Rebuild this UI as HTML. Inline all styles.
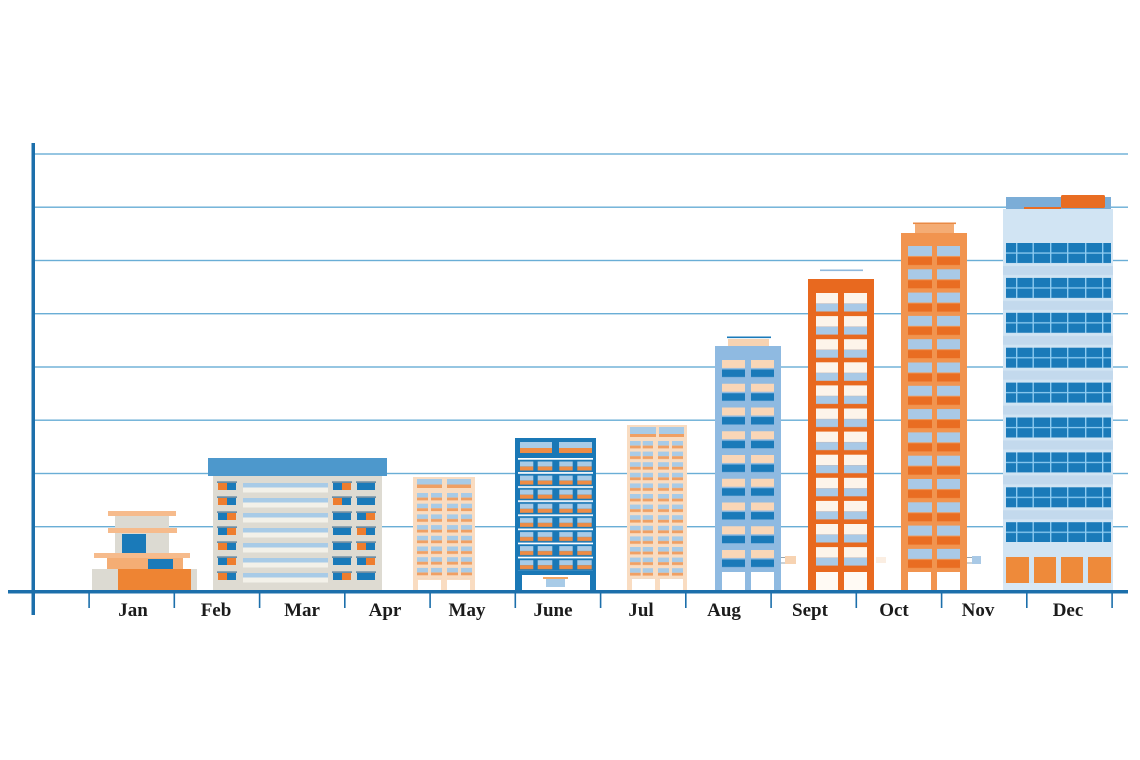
<!DOCTYPE html>
<html><head><meta charset="utf-8"><style>
html,body{margin:0;padding:0;background:#fff;}
svg{display:block;}
text{font-family:"Liberation Serif",serif;font-weight:bold;font-size:19px;fill:#1b1b1b;text-anchor:middle;}
</style></head><body>
<svg width="1140" height="760" viewBox="0 0 1140 760" xmlns="http://www.w3.org/2000/svg">
<defs>
<pattern id="pMay" patternUnits="userSpaceOnUse" x="0" y="493" width="1140" height="10.7">
 <rect x="417" y="0" width="11" height="4.6" fill="#a8cbe7"/><rect x="417" y="4.6" width="11" height="2.8" fill="#f0a064"/>
 <rect x="431" y="0" width="11" height="4.6" fill="#a8cbe7"/><rect x="431" y="4.6" width="11" height="2.8" fill="#f0a064"/>
 <rect x="447" y="0" width="11" height="4.6" fill="#a8cbe7"/><rect x="447" y="4.6" width="11" height="2.8" fill="#f0a064"/>
 <rect x="461" y="0" width="11" height="4.6" fill="#a8cbe7"/><rect x="461" y="4.6" width="11" height="2.8" fill="#f0a064"/>
</pattern>
<pattern id="pJune" patternUnits="userSpaceOnUse" x="0" y="458" width="1140" height="14.1">
 <rect x="518" y="0" width="75" height="1.7" fill="#ffffff"/>
 <rect x="520" y="3.5" width="13.3" height="5" fill="#a8cbe7"/><rect x="520" y="8.5" width="13.3" height="4" fill="#ee8c45"/>
 <rect x="537.7" y="3.5" width="14.6" height="5" fill="#a8cbe7"/><rect x="537.7" y="8.5" width="14.6" height="4" fill="#ee8c45"/>
 <rect x="559.3" y="3.5" width="13.4" height="5" fill="#a8cbe7"/><rect x="559.3" y="8.5" width="13.4" height="4" fill="#ee8c45"/>
 <rect x="577.3" y="3.5" width="14.4" height="5" fill="#a8cbe7"/><rect x="577.3" y="8.5" width="14.4" height="4" fill="#ee8c45"/>
</pattern>
<pattern id="pJul" patternUnits="userSpaceOnUse" x="0" y="441" width="1140" height="10.6">
 <rect x="630" y="0" width="10.7" height="4.6" fill="#a8cbe7"/><rect x="630" y="4.6" width="10.7" height="2.8" fill="#f0a064"/>
 <rect x="642.7" y="0" width="10.3" height="4.6" fill="#a8cbe7"/><rect x="642.7" y="4.6" width="10.3" height="2.8" fill="#f0a064"/>
 <rect x="658" y="0" width="11" height="4.6" fill="#a8cbe7"/><rect x="658" y="4.6" width="11" height="2.8" fill="#f0a064"/>
 <rect x="672" y="0" width="11" height="4.6" fill="#a8cbe7"/><rect x="672" y="4.6" width="11" height="2.8" fill="#f0a064"/>
</pattern>
<pattern id="pAug" patternUnits="userSpaceOnUse" x="0" y="360" width="1140" height="23.75">
 <rect x="722" y="0" width="23" height="8" fill="#f9d6b7"/><rect x="751" y="0" width="23" height="8" fill="#f9d6b7"/>
 <rect x="722" y="9.5" width="23" height="7.5" fill="#1a7ab9"/><rect x="751" y="9.5" width="23" height="7.5" fill="#1a7ab9"/>
</pattern>
<pattern id="pSep" patternUnits="userSpaceOnUse" x="0" y="293" width="1140" height="23.1">
 <rect x="816" y="0" width="22" height="10.5" fill="#fdf4ea"/><rect x="816" y="10.5" width="22" height="8" fill="#a9c9e6"/>
 <rect x="844" y="0" width="23" height="10.5" fill="#fdf4ea"/><rect x="844" y="10.5" width="23" height="8" fill="#a9c9e6"/>
</pattern>
<pattern id="pOct" patternUnits="userSpaceOnUse" x="0" y="246" width="1140" height="23.3">
 <rect x="908" y="0" width="24" height="10" fill="#a9c9e6"/><rect x="937" y="0" width="23" height="10" fill="#a9c9e6"/>
 <rect x="908" y="11" width="24" height="8" fill="#e96d22"/><rect x="937" y="11" width="23" height="8" fill="#e96d22"/>
</pattern>
<pattern id="pDec" patternUnits="userSpaceOnUse" x="0" y="243" width="1140" height="34.9">
 <rect x="1003" y="23" width="110" height="9" fill="#c3d9ed"/>
 <rect x="1006" y="0" width="105" height="20" fill="#1a7ab9"/>
 <rect x="1006" y="9.4" width="105" height="1.3" fill="#8ccaf0"/>
 <rect x="1016" y="0" width="1.4" height="20" fill="#8ccaf0"/>
 <rect x="1032.5" y="0" width="1.4" height="20" fill="#8ccaf0"/>
 <rect x="1050" y="0" width="1.4" height="20" fill="#8ccaf0"/>
 <rect x="1067" y="0" width="1.4" height="20" fill="#8ccaf0"/>
 <rect x="1085" y="0" width="1.4" height="20" fill="#8ccaf0"/>
 <rect x="1102" y="0" width="1.4" height="20" fill="#8ccaf0"/>
</pattern>
</defs>

<!-- gridlines -->
<g fill="#6aaed6">
 <rect x="35" y="153.3" width="1093" height="1.4"/>
 <rect x="35" y="206.5" width="1093" height="1.4"/>
 <rect x="35" y="259.8" width="1093" height="1.4"/>
 <rect x="35" y="313" width="1093" height="1.4"/>
 <rect x="35" y="366.3" width="1093" height="1.4"/>
 <rect x="35" y="419.5" width="1093" height="1.4"/>
 <rect x="35" y="472.8" width="1093" height="1.4"/>
 <rect x="35" y="526" width="1093" height="1.4"/>
</g>

<!-- Jan -->
<rect x="92" y="569" width="105" height="21" fill="#dcdad2"/>
<rect x="118" y="569" width="73" height="21" fill="#ee8433"/>
<rect x="107" y="558" width="76" height="11" fill="#f4ad74"/>
<rect x="148" y="559" width="25" height="10" fill="#1a7ab9"/>
<rect x="94" y="553" width="96" height="5" fill="#f6bb8c"/>
<rect x="115" y="533" width="54" height="20" fill="#dcdad2"/>
<rect x="122" y="534" width="24" height="19" fill="#1a7ab9"/>
<rect x="108" y="528" width="69" height="5" fill="#f6bb8c"/>
<rect x="115" y="516" width="54" height="12" fill="#dcdad2"/>
<rect x="108" y="511" width="68" height="5" fill="#f6bb8c"/>

<!-- Feb-Mar -->
<rect x="213" y="476" width="169" height="114" fill="#dedbd2"/>
<rect x="208" y="458" width="179" height="18" fill="#4d98cc"/>
<g>
 <g transform="translate(0,483)">
  <rect x="217" y="-1.5" width="20" height="1.2" fill="#3b6d93"/><rect x="218" y="0" width="9" height="7" fill="#ee7d2e"/><rect x="227" y="0" width="9" height="7" fill="#1a7ab9"/>
  <rect x="243" y="0" width="85" height="4.5" fill="#a8cbe7"/><rect x="243" y="4.5" width="85" height="5" fill="#f3f1e9"/>
  <rect x="332" y="-1.5" width="20" height="1.2" fill="#3b6d93"/><rect x="333" y="0" width="9" height="7" fill="#1a7ab9"/><rect x="342" y="0" width="9" height="7" fill="#ee7d2e"/>
  <rect x="356" y="-1.5" width="20" height="1.2" fill="#3b6d93"/><rect x="357" y="0" width="9" height="7" fill="#1a7ab9"/><rect x="366" y="0" width="9" height="7" fill="#1a7ab9"/>
 </g>
 <g transform="translate(0,498)">
  <rect x="217" y="-1.5" width="20" height="1.2" fill="#3b6d93"/><rect x="218" y="0" width="9" height="7" fill="#ee7d2e"/><rect x="227" y="0" width="9" height="7" fill="#1a7ab9"/>
  <rect x="243" y="0" width="85" height="4.5" fill="#a8cbe7"/><rect x="243" y="4.5" width="85" height="5" fill="#f3f1e9"/>
  <rect x="332" y="-1.5" width="20" height="1.2" fill="#3b6d93"/><rect x="333" y="0" width="9" height="7" fill="#ee7d2e"/><rect x="342" y="0" width="9" height="7" fill="#1a7ab9"/>
  <rect x="356" y="-1.5" width="20" height="1.2" fill="#3b6d93"/><rect x="357" y="0" width="9" height="7" fill="#1a7ab9"/><rect x="366" y="0" width="9" height="7" fill="#1a7ab9"/>
 </g>
 <g transform="translate(0,513)">
  <rect x="217" y="-1.5" width="20" height="1.2" fill="#3b6d93"/><rect x="218" y="0" width="9" height="7" fill="#1a7ab9"/><rect x="227" y="0" width="9" height="7" fill="#ee7d2e"/>
  <rect x="243" y="0" width="85" height="4.5" fill="#a8cbe7"/><rect x="243" y="4.5" width="85" height="5" fill="#f3f1e9"/>
  <rect x="332" y="-1.5" width="20" height="1.2" fill="#3b6d93"/><rect x="333" y="0" width="9" height="7" fill="#1a7ab9"/><rect x="342" y="0" width="9" height="7" fill="#1a7ab9"/>
  <rect x="356" y="-1.5" width="20" height="1.2" fill="#3b6d93"/><rect x="357" y="0" width="9" height="7" fill="#1a7ab9"/><rect x="366" y="0" width="9" height="7" fill="#ee7d2e"/>
 </g>
 <g transform="translate(0,528)">
  <rect x="217" y="-1.5" width="20" height="1.2" fill="#3b6d93"/><rect x="218" y="0" width="9" height="7" fill="#1a7ab9"/><rect x="227" y="0" width="9" height="7" fill="#ee7d2e"/>
  <rect x="243" y="0" width="85" height="4.5" fill="#a8cbe7"/><rect x="243" y="4.5" width="85" height="5" fill="#f3f1e9"/>
  <rect x="332" y="-1.5" width="20" height="1.2" fill="#3b6d93"/><rect x="333" y="0" width="9" height="7" fill="#1a7ab9"/><rect x="342" y="0" width="9" height="7" fill="#1a7ab9"/>
  <rect x="356" y="-1.5" width="20" height="1.2" fill="#3b6d93"/><rect x="357" y="0" width="9" height="7" fill="#ee7d2e"/><rect x="366" y="0" width="9" height="7" fill="#1a7ab9"/>
 </g>
 <g transform="translate(0,543)">
  <rect x="217" y="-1.5" width="20" height="1.2" fill="#3b6d93"/><rect x="218" y="0" width="9" height="7" fill="#ee7d2e"/><rect x="227" y="0" width="9" height="7" fill="#1a7ab9"/>
  <rect x="243" y="0" width="85" height="4.5" fill="#a8cbe7"/><rect x="243" y="4.5" width="85" height="5" fill="#f3f1e9"/>
  <rect x="332" y="-1.5" width="20" height="1.2" fill="#3b6d93"/><rect x="333" y="0" width="9" height="7" fill="#1a7ab9"/><rect x="342" y="0" width="9" height="7" fill="#1a7ab9"/>
  <rect x="356" y="-1.5" width="20" height="1.2" fill="#3b6d93"/><rect x="357" y="0" width="9" height="7" fill="#ee7d2e"/><rect x="366" y="0" width="9" height="7" fill="#1a7ab9"/>
 </g>
 <g transform="translate(0,558)">
  <rect x="217" y="-1.5" width="20" height="1.2" fill="#3b6d93"/><rect x="218" y="0" width="9" height="7" fill="#1a7ab9"/><rect x="227" y="0" width="9" height="7" fill="#ee7d2e"/>
  <rect x="243" y="0" width="85" height="4.5" fill="#a8cbe7"/><rect x="243" y="4.5" width="85" height="5" fill="#f3f1e9"/>
  <rect x="332" y="-1.5" width="20" height="1.2" fill="#3b6d93"/><rect x="333" y="0" width="9" height="7" fill="#1a7ab9"/><rect x="342" y="0" width="9" height="7" fill="#1a7ab9"/>
  <rect x="356" y="-1.5" width="20" height="1.2" fill="#3b6d93"/><rect x="357" y="0" width="9" height="7" fill="#1a7ab9"/><rect x="366" y="0" width="9" height="7" fill="#ee7d2e"/>
 </g>
 <g transform="translate(0,573)">
  <rect x="217" y="-1.5" width="20" height="1.2" fill="#3b6d93"/><rect x="218" y="0" width="9" height="7" fill="#ee7d2e"/><rect x="227" y="0" width="9" height="7" fill="#1a7ab9"/>
  <rect x="243" y="0" width="85" height="4.5" fill="#a8cbe7"/><rect x="243" y="4.5" width="85" height="5" fill="#f3f1e9"/>
  <rect x="332" y="-1.5" width="20" height="1.2" fill="#3b6d93"/><rect x="333" y="0" width="9" height="7" fill="#1a7ab9"/><rect x="342" y="0" width="9" height="7" fill="#ee7d2e"/>
  <rect x="356" y="-1.5" width="20" height="1.2" fill="#3b6d93"/><rect x="357" y="0" width="9" height="7" fill="#1a7ab9"/><rect x="366" y="0" width="9" height="7" fill="#1a7ab9"/>
 </g>
</g>

<!-- May -->
<rect x="413" y="477" width="62" height="113" fill="#f9dcc1"/>
<rect x="417" y="479" width="25" height="5.5" fill="#a8cbe7"/><rect x="417" y="484.5" width="25" height="3.5" fill="#f0a064"/>
<rect x="447" y="479" width="24" height="5.5" fill="#a8cbe7"/><rect x="447" y="484.5" width="24" height="3.5" fill="#f0a064"/>
<rect x="413" y="493" width="62" height="85.6" fill="url(#pMay)"/>
<rect x="418" y="580" width="23" height="10" fill="#ffffff"/>
<rect x="447" y="580" width="23" height="10" fill="#ffffff"/>

<!-- June -->
<rect x="515" y="438" width="81" height="152" fill="#1a78b6"/>
<rect x="520" y="442" width="32" height="6" fill="#a8cbe7"/><rect x="520" y="448" width="32" height="5" fill="#ee8c45"/>
<rect x="559" y="442" width="33" height="6" fill="#a8cbe7"/><rect x="559" y="448" width="33" height="5" fill="#ee8c45"/>
<rect x="515" y="458" width="81" height="112.8" fill="url(#pJune)"/>
<rect x="522" y="575" width="68" height="15" fill="#ffffff"/>
<rect x="543" y="577" width="25" height="2" fill="#f2a866"/>
<rect x="546" y="579" width="19" height="8" fill="#a8cbe7"/>

<!-- Jul -->
<rect x="627" y="425" width="60" height="165" fill="#f9dcc1"/>
<rect x="630" y="427" width="26" height="7" fill="#a8cbe7"/><rect x="630" y="434" width="26" height="3" fill="#f0a064"/>
<rect x="659" y="427" width="25" height="7" fill="#a8cbe7"/><rect x="659" y="434" width="25" height="3" fill="#f0a064"/>
<rect x="627" y="441" width="60" height="137.8" fill="url(#pJul)"/>
<rect x="632" y="579" width="23" height="11" fill="#ffffff"/>
<rect x="660" y="579" width="23" height="11" fill="#ffffff"/>

<!-- Aug -->
<rect x="727" y="336.5" width="44" height="1.6" fill="#1a7ab9"/>
<rect x="728" y="339" width="41" height="7" fill="#f7d3b2"/>
<rect x="715" y="346" width="66" height="244" fill="#8fbae1"/>
<rect x="715" y="360" width="66" height="214" fill="url(#pAug)"/>
<rect x="722" y="572" width="23" height="18" fill="#ffffff"/>
<rect x="751" y="572" width="23" height="18" fill="#ffffff"/>
<rect x="781" y="557" width="4" height="1" fill="#9aa6ad"/><rect x="781" y="562.5" width="4" height="1" fill="#9aa6ad"/>
<rect x="785" y="556" width="11" height="8" fill="#f7d3b2"/>

<!-- Sept -->
<rect x="820" y="269.5" width="43" height="1.6" fill="#8fb9dd"/>
<rect x="808" y="279" width="66" height="311" fill="#e8691f"/>
<rect x="808" y="293" width="66" height="275" fill="url(#pSep)"/>
<rect x="816" y="572" width="22" height="18" fill="#fffaf4"/>
<rect x="844" y="572" width="23" height="18" fill="#fffaf4"/>
<rect x="876" y="557" width="10" height="6" fill="#fbeee2"/>

<!-- Oct -->
<rect x="913" y="222.5" width="43" height="1.6" fill="#e98a45"/>
<rect x="915" y="224" width="39" height="9" fill="#f4ac74"/>
<rect x="901" y="233" width="66" height="357" fill="#f1944f"/>
<rect x="901" y="246" width="66" height="326" fill="url(#pOct)"/>
<rect x="908" y="572" width="23" height="18" fill="#ffffff"/>
<rect x="937" y="572" width="23" height="18" fill="#ffffff"/>
<rect x="967" y="557" width="5" height="1" fill="#9aa6ad"/><rect x="967" y="562.5" width="5" height="1" fill="#9aa6ad"/>
<rect x="972" y="556" width="9" height="8" fill="#a9c9e6"/>

<!-- Dec -->
<rect x="1003" y="209" width="110" height="381" fill="#d1e4f3"/>
<rect x="1006" y="197" width="105" height="12" fill="#7badd7"/>
<rect x="1061" y="195" width="44" height="13" rx="1.5" fill="#e96d22"/>
<rect x="1024" y="207" width="37" height="2" fill="#e96d22"/>
<rect x="1003" y="243" width="110" height="299" fill="url(#pDec)"/>
<rect x="1006" y="557" width="23" height="26" fill="#ee8a3a"/>
<rect x="1034" y="557" width="22" height="26" fill="#ee8a3a"/>
<rect x="1061" y="557" width="22" height="26" fill="#ee8a3a"/>
<rect x="1088" y="557" width="23" height="26" fill="#ee8a3a"/>
<rect x="1003" y="583" width="110" height="7" fill="#d8e8f5"/>

<!-- axes -->
<rect x="31.5" y="143" width="3.5" height="472" fill="#1c6fab"/>
<rect x="8" y="590" width="1120" height="3.5" fill="#1c6fab"/>
<g fill="#1c6fab">
 <rect x="88.3" y="591" width="1.6" height="17"/>
 <rect x="173.5" y="591" width="1.6" height="17"/>
 <rect x="258.8" y="591" width="1.6" height="17"/>
 <rect x="344" y="591" width="1.6" height="17"/>
 <rect x="429.3" y="591" width="1.6" height="17"/>
 <rect x="514.5" y="591" width="1.6" height="17"/>
 <rect x="599.8" y="591" width="1.6" height="17"/>
 <rect x="685" y="591" width="1.6" height="17"/>
 <rect x="770.3" y="591" width="1.6" height="17"/>
 <rect x="855.5" y="591" width="1.6" height="17"/>
 <rect x="940.8" y="591" width="1.6" height="17"/>
 <rect x="1026" y="591" width="1.6" height="17"/>
 <rect x="1111.3" y="591" width="1.6" height="17"/>
</g>

<!-- labels -->
<text x="133" y="616">Jan</text>
<text x="216" y="616">Feb</text>
<text x="302" y="616">Mar</text>
<text x="385" y="616">Apr</text>
<text x="467" y="616">May</text>
<text x="553" y="616">June</text>
<text x="641" y="616">Jul</text>
<text x="724" y="616">Aug</text>
<text x="810" y="616">Sept</text>
<text x="894" y="616">Oct</text>
<text x="978" y="616">Nov</text>
<text x="1068" y="616">Dec</text>
</svg>
</body></html>
